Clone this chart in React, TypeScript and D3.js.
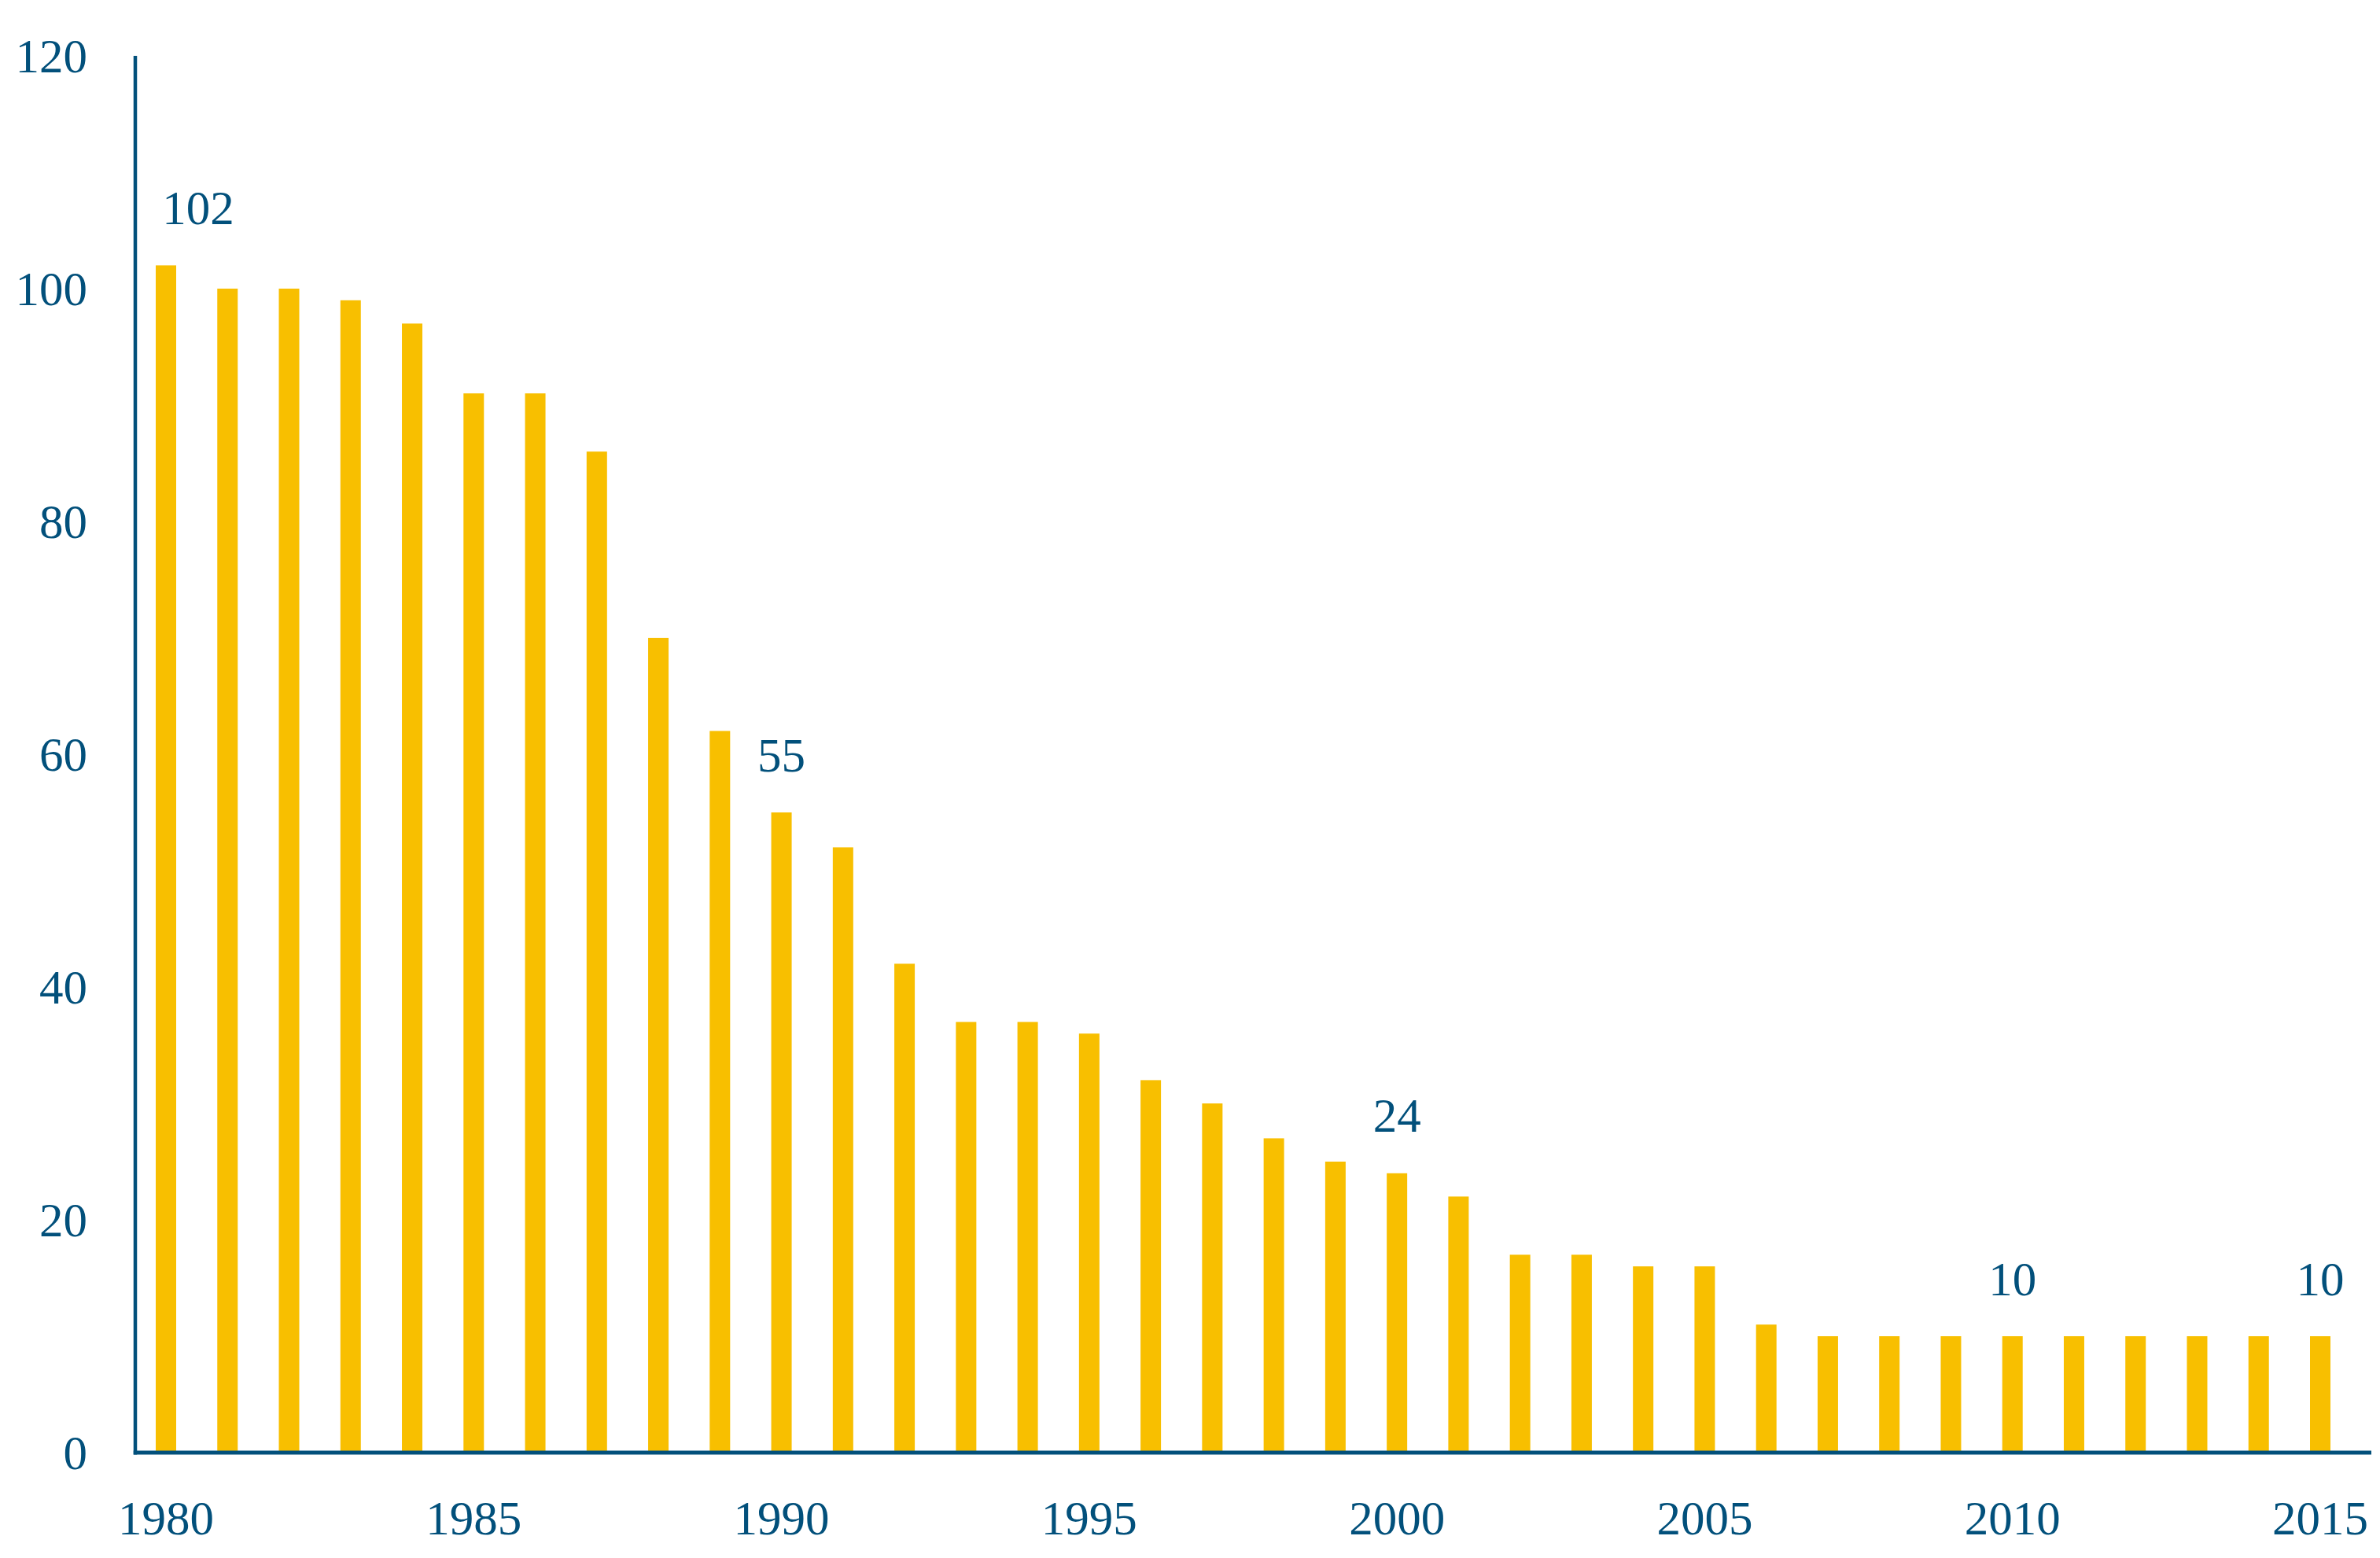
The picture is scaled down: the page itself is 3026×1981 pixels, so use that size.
import React from "react";
import * as d3 from "d3";

const years: number[] = d3.range(1980, 2016);
const values: number[] = [
  102, 100, 100, 99, 97, 91, 91, 86, 70, 62,
  55, 52, 42, 37, 37, 36, 32, 30, 27, 25,
  24, 22, 17, 17, 16, 16, 11, 10, 10, 10,
  10, 10, 10, 10, 10, 10,
];
const yTicks: number[] = [0, 20, 40, 60, 80, 100, 120];
const xTicks: number[] = [1980, 1985, 1990, 1995, 2000, 2005, 2010, 2015];
const labeledYears: number[] = [1980, 1990, 2000, 2010, 2015];

const W = 3026;
const H = 1981;
const BLUE = "#02507B";
const GOLD = "#F8BF00";
const FONT = "'Liberation Serif', 'DejaVu Serif', serif";

export default function App() {
  const axisX = 172;
  const y = d3.scaleLinear().domain([0, 120]).range([1847, 71]);
  const x = d3.scaleLinear().domain([1980, 2015]).range([211, 2950]);
  const barW = 26;
  const fs = 61;

  return (
    <svg
      width={W}
      height={H}
      style={{ position: "absolute", left: 0, top: 0, background: "#fff" }}
    >
      {years.map((yr, i) => (
        <rect
          key={yr}
          x={x(yr) - barW / 2}
          y={y(values[i])}
          width={barW}
          height={y(0) - y(values[i])}
          fill={GOLD}
        />
      ))}
      <line x1={axisX} x2={axisX} y1={y(120)} y2={y(0) + 2.5} stroke={BLUE} strokeWidth={4.5} />
      <line x1={axisX - 2.25} x2={3015} y1={y(0)} y2={y(0)} stroke={BLUE} strokeWidth={5} />
      {yTicks.map((t) => (
        <text
          key={t}
          x={111}
          y={y(t)}
          textAnchor="end"
          dominantBaseline="central"
          fontFamily={FONT}
          fontSize={fs}
          fill={BLUE}
        >
          {t}
        </text>
      ))}
      {xTicks.map((t) => (
        <text
          key={t}
          x={x(t)}
          y={1951}
          textAnchor="middle"
          fontFamily={FONT}
          fontSize={fs}
          fill={BLUE}
        >
          {t}
        </text>
      ))}
      {labeledYears.map((yr) => {
        const v = values[years.indexOf(yr)];
        const dx = yr === 1980 ? 41 : 0;
        return (
          <text
            key={yr}
            x={x(yr) + dx}
            y={y(v) - 73}
            textAnchor="middle"
            dominantBaseline="central"
            fontFamily={FONT}
            fontSize={fs}
            fill={BLUE}
          >
            {v}
          </text>
        );
      })}
    </svg>
  );
}
